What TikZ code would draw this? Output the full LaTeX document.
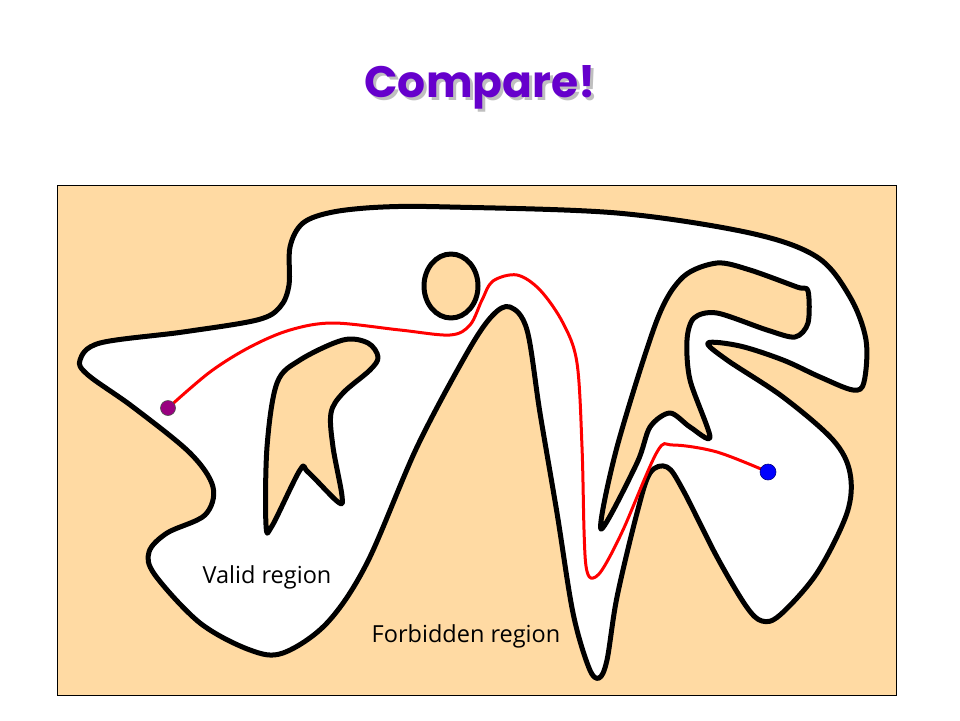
\documentclass[tikz,border=0pt]{standalone}
\usepackage{fontspec}
\setmainfont{Open Sans}
\newfontfamily\titlefont{Poppins}
\definecolor{peach}{HTML}{FFDAA3}
\definecolor{titlepurple}{HTML}{6600CC}
\definecolor{dotpurple}{HTML}{990080}
\begin{document}
\begin{tikzpicture}[x=1pt,y=-1pt,
  wall/.style={line width=5pt,line join=round,draw=black},
  pathline/.style={line width=3pt,draw=red,line cap=round},
  lbl/.style={font=\fontsize{23.5}{28}\selectfont,inner sep=0pt}]
\useasboundingbox (0,0) rectangle (960,720);
\fill[white] (0,0) rectangle (960,720);
% title with faint shadow
\node (title) [font=\titlefont\bfseries\fontsize{44}{50}\selectfont,text=titlepurple,inner sep=0pt,
  preaction={}] at (480,89) {\makebox[0pt][l]{\hspace{3pt}\raisebox{-3pt}{\color{black!25}Compare!}}Compare!};
% frame
\draw[fill=peach,line width=1pt] (57,185) rectangle (896,695);
% valid region
\draw[wall,fill=white] plot[smooth cycle,tension=0.55] coordinates {
 (80,360) (100,343) (183,332) (257,320) (280,307) (289,285) (290,247) (303,223) (333,212) (383,207)
 (450,207) (617,213) (750,233) (817,257) (850,297) (866,340) (864,382) (853,390) (820,377) (783,360)
 (740,346) (708,343) (727,360) (783,397) (833,440) (850,473) (847,513) (817,573) (780,615) (762,621)
 (746,606) (717,557) (683,490) (667,467) (650,473) (637,513) (617,597) (607,660) (599,678) (589,668)
 (573,613) (557,513) (540,413) (527,330) (510,307) (492,316) (467,353) (417,447) (367,563) (327,623)
 (283,653) (250,650) (200,623) (155,575) (149,552) (167,533) (205,515) (213,487) (190,453) (133,407) (88,375)};
% island left
\draw[wall,fill=peach] plot[smooth cycle,tension=0.55] coordinates {
 (378,357) (368,343) (343,340) (300,360) (277,383) (267,447) (266,525) (272,526) (300,470) (308,472)
 (338,502) (342,496) (333,447) (331,413) (343,393) (370,370)};
% island right
\draw[wall,fill=peach] plot[smooth cycle,tension=0.5] coordinates {
 (601,529) (617,447) (657,320) (683,277) (717,263) (750,270) (797,287) (808,291) (808,323) (795,337)
 (767,330) (717,313) (694,318) (687,340) (690,380) (710,437) (690,427) (670,413) (650,427) (637,463)};
% circle
\draw[wall,fill=peach] (451,286) ellipse [x radius=27,y radius=32];
% endpoints
\coordinate (start) at (168,408);
\coordinate (goal) at (768,472);
% path
\draw[pathline] plot[smooth,tension=0.55] coordinates {
 (start) (210,372) (250,347) (290,330) (333,323) (400,330) (450,335) (470,325) (482,300)
 (493,281) (517,275) (540,290) (563,323) (577,363) (582,447) (584,530) (586,566) (591,578) (602,570)
 (623,530) (657,452) (673,445) (717,452) (goal)};
\node (startdot) [circle,fill=dotpurple,draw=black!70,line width=0.6pt,minimum size=15pt,inner sep=0pt] at (start) {};
\node (goaldot) [circle,fill=blue,draw=blue!50!black,line width=0.6pt,minimum size=16pt,inner sep=0pt] at (goal) {};
% labels
\node (valid) [lbl] at (267,577) {Valid region};
\node (forb) [lbl] at (466,636) {Forbidden region};
\end{tikzpicture}
\end{document}
